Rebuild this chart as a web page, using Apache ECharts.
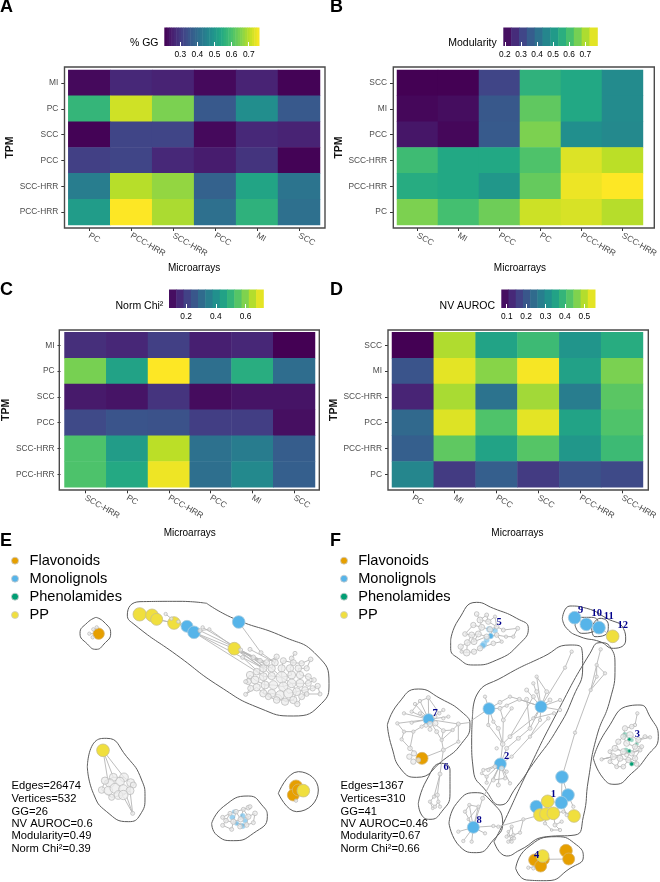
<!DOCTYPE html>
<html><head><meta charset="utf-8">
<style>html,body{margin:0;padding:0;background:#fff}#c{width:660px;height:882px}</style>
<script src="https://cdn.jsdelivr.net/npm/echarts@6/dist/echarts.min.js"></script>
</head><body><div id="c"></div>
<script>
// ---------- heatmap data (rows listed top to bottom) ----------
const xA=['PC','PCC-HRR','SCC-HRR','PCC','MI','SCC'];
const yA=['MI','PC','SCC','PCC','SCC-HRR','PCC-HRR'];
const valA=[[.22,.27,.26,.22,.26,.21],[.57,.72,.65,.36,.48,.36],[.21,.32,.32,.22,.27,.26],[.31,.32,.27,.25,.29,.21],[.44,.70,.67,.38,.53,.42],[.51,.76,.69,.41,.56,.41]];
const xB=['SCC','MI','PCC','PC','PCC-HRR','SCC-HRR'];
const yB=['SCC','MI','PCC','SCC-HRR','PCC-HRR','PC'];
const valB=[[.19,.19,.31,.565,.54,.47],[.20,.21,.35,.63,.54,.47],[.225,.20,.355,.66,.48,.465],[.59,.54,.54,.61,.745,.715],[.55,.54,.50,.635,.76,.775],[.66,.60,.645,.73,.74,.71]];
const xC=['SCC-HRR','PC','PCC-HRR','PCC','MI','SCC'];
const yC=['MI','PC','SCC','PCC','SCC-HRR','PCC-HRR'];
const valC=[[.17,.155,.205,.14,.155,.085],[.59,.45,.72,.315,.48,.31],[.13,.12,.18,.105,.12,.12],[.225,.25,.245,.20,.20,.11],[.54,.435,.655,.32,.35,.27],[.54,.47,.705,.315,.385,.275]];
const xD=['PC','MI','PCC','SCC','PCC-HRR','SCC-HRR'];
const yD=['SCC','MI','SCC-HRR','PCC','PCC-HRR','PC'];
const valD=[[.072,.497,.352,.40,.323,.371],[.198,.536,.468,.55,.347,.458],[.12,.492,.255,.487,.275,.43],[.236,.531,.42,.536,.352,.42],[.217,.434,.352,.425,.328,.40],[.294,.155,.217,.155,.193,.18]];
const titleA='% GG',titleB='Modularity',titleC='Norm Chi²',titleD='NV AUROC';
const rangeA=[.207,.76],rangeB=[.19,.775],rangeC=[.085,.72],rangeD=[.072,.555];
const ticksA=[.3,.4,.5,.6,.7],ticksB=[.2,.3,.4,.5,.6,.7],ticksC=[.2,.4,.6],ticksD=[.1,.2,.3,.4,.5];
const viridis=['#440154','#482475','#414487','#355f8d','#2a788e','#21908d','#22a884','#44bf70','#7ad151','#bddf26','#fde725'];

// ---------- network data: [x, y, radius] ----------
const legendNames=['Flavonoids','Monolignols','Phenolamides','PP'];
const legendY=[62,116,170,225];
const cOrange='#E69F00',cBlue='#56B4E9',cGreen='#009E73',cYellow='#F0DF3E';
const statsE=['Edges=26474','Vertices=532','GG=26','NV AUROC=0.6','Modularity=0.49','Norm Chi²=0.39'];
const statsF=['Edges=1367','Vertices=310','GG=41','NV AUROC=0.46','Modularity=0.67','Norm Chi²=0.66'];
const statsY=[737,776,815,852,889,928];

const eHulls=[
 [[288,232],[312,246],[332,280],[312,312],[288,328],[262,312],[240,280],[262,248]],
 [[620,190],[700,235],[850,290],[950,345],[987,430],[965,490],[880,528],[780,505],[660,440],[530,345],[405,255],[382,225],[420,185],[540,184]],
 [[262,680],[285,605],[320,595],[380,650],[425,720],[435,770],[420,825],[385,845],[320,815],[280,760]],
 [[635,850],[670,800],[745,768],[790,800],[802,830],[760,880],[700,902],[650,885]],
 [[835,760],[895,695],[955,750],[890,815]]];
const eMain=[[885,340,6],[875,355,7],[830,350,8],[800,368,9],[825,368,10],[850,362,9],[880,368,9],[905,370,8],[932,358,7],[920,385,8],[895,385,10],[870,385,11],[845,385,11],[815,385,11],[790,385,11],[770,395,10],[750,405,11],[745,425,9],[737,425,6],[765,420,12],[790,410,12],[815,408,11],[845,412,17],[875,405,12],[900,405,11],[925,410,9],[942,420,7],[925,430,9],[900,430,12],[875,430,13],[850,440,14],[820,435,13],[795,435,12],[770,442,11],[752,445,9],[737,463,6],[790,460,11],[815,460,12],[840,465,13],[865,460,14],[890,455,12],[915,450,10],[938,445,8],[953,438,8],[960,462,6],[905,470,9],[880,480,11],[855,485,11],[830,480,10],[805,470,9],[892,492,8],[920,462,7]];
const eMainWalk=[0,1,6,11,23,22,13,4,2,3,14,20,21,22,30,31,32,19,16,18,17,34,35,33,36,37,38,47,46,50,45,51,44,43,42,41,40,39,30,29,28,27,26,25,24,10,9,8,7,6,5,12,22,29,40,46,48,49,36,32,20,15];
const eTop=[[497,222,5],[514,236,5],[535,245,5],[600,272,6],[628,268,5],[608,262,5],[722,330,6],[728,352,6],[750,328,6],[783,338,6],[760,352,7],[780,362,7]];
const eLow=[[340,712,12],[372,712,13],[392,728,12],[400,735,9],[360,725,13],[330,730,13],[315,722,11],[305,750,10],[325,752,13],[345,745,15],[370,748,14],[390,752,12],[355,765,13],[370,765,14],[335,772,9],[398,820,6]];
const eBlueGrey=[[745,803,7],[730,808,6],[708,815,7],[690,820,6],[668,832,6],[678,842,7],[668,856,6],[695,868,6],[700,845,8],[722,838,8],[745,830,8],[765,820,7],[760,848,6],[740,855,7],[720,860,7],[750,800,6]];
const eBlueWalk=[0,1,2,3,4,5,6,7,8,9,10,11,12,13,14,8,2,9,1,10,13,5,3];
const eFlavGrey=[[268,281,5],[280,268,5],[278,292,5],[290,262,5]];
const eOtherGrey=[[888,782,5]];
const eOrange=[[296,281,17],[888,740,20],[880,765,18],[895,750,18]];
const eBlue=[[561,259,18],[582,277,19],[716,246,19]];
const ePaleBlue=[[697,832,8],[728,828,8],[728,858,8],[710,850,7],[735,842,7],[702,815,6]];
const eYellow=[[419,223,20],[456,226,19],[470,238,18],[522,249,19],[703,326,19],[309,631,19],[910,752,19]];
const ePaths=[
 [419,223,456,226,470,238,522,249,561,259,582,277,703,326],
 [497,222,514,236,535,245,561,259],[470,238,522,249,600,272,628,268],
 [716,246,783,338,825,368],[582,277,790,385],[582,277,770,395],[600,272,800,368],[608,262,815,385],[628,268,790,385],
 [703,326,790,385],[703,326,800,368],[703,326,780,362,815,385],[722,330,800,385],[728,352,790,410],[750,328,825,368],[760,352,815,408],
 [309,631,340,712],[309,631,372,712],[309,631,325,730],[370,770,398,820],[380,770,398,820],[390,752,398,820],
 [340,712,372,712,392,728,390,752,370,765,335,772,305,750,315,722,340,712],
 [296,281,268,281],[296,281,280,268],[296,281,278,292],[296,281,290,262],
 [880,765,888,782],[888,740,910,752]];

const fHulls=[
 [[362,300],[385,240],[440,187],[490,205],[560,235],[595,265],[570,310],[500,360],[430,375],[385,355],[362,325]],
 [[697,235],[720,198],[770,205],[830,235],[880,265],[887,300],[850,325],[810,305],[750,290],[710,265]],
 [[735,255],[755,232],[785,232],[805,250],[790,275],[755,280]],
 [[785,262],[810,235],[835,255],[825,285],[795,290]],
 [[172,555],[205,490],[265,447],[330,475],[400,520],[420,555],[395,610],[340,660],[260,712],[215,690],[185,620]],
 [[428,520],[440,465],[520,410],[640,350],[720,315],[755,325],[758,380],[730,470],[680,570],[610,670],[560,740],[510,795],[470,755],[430,690],[425,600]],
 [[492,905],[520,850],[590,700],[680,520],[780,340],[810,308],[840,320],[855,380],[840,480],[800,590],[775,720],[760,830],[735,885],[650,890],[570,930],[530,948]],
 [[790,655],[830,570],[900,497],[930,495],[960,530],[985,590],[950,650],[905,700],[855,733],[820,715]],
 [[265,790],[290,720],[335,670],[360,690],[360,760],[335,815],[300,838],[275,825]],
 [[357,850],[380,790],[435,758],[480,780],[518,850],[490,900],[440,938],[390,920]],
 [[557,985],[590,925],[680,890],[740,915],[760,950],[720,985],[650,1022],[590,1020]]];
const f5=[[440,222,7],[470,225,6],[495,230,5],[450,240,9],[475,245,8],[500,260,7],[430,255,8],[455,262,9],[480,268,8],[520,270,6],[563,265,6],[405,282,7],[425,285,9],[445,282,9],[470,290,8],[500,285,7],[528,290,5],[550,290,5],[392,320,8],[412,308,9],[432,305,9],[450,325,8],[490,310,7],[515,305,5],[410,338,10],[432,335,8],[395,335,5]];
const f5Walk=[0,3,1,4,2,5,8,7,6,11,12,13,14,15,16,17,10,9,5,4,3,7,13,20,19,18,26,24,25,21,22,23,15,14,20,12,19,24];
const f3=[[922,520,5],[915,555,5],[905,560,7],[885,565,8],[880,590,8],[900,585,10],[925,600,8],[945,590,6],[960,592,5],[865,605,8],[890,610,9],[915,620,8],[935,620,6],[855,625,9],[880,635,9],[905,640,8],[930,630,6],[850,650,9],[870,655,9],[895,660,8],[915,655,8],[920,672,7],[880,680,7],[860,680,6],[840,635,6],[815,658,5],[890,645,6],[840,665,6]];
const f3Walk=[0,1,2,3,4,5,6,7,8,6,11,12,16,15,14,13,9,4,10,11,15,20,21,19,22,23,18,17,24,13,14,18,19,20,16,25,17,27,23];
const fSmall=[
 [295,473,6],[270,483,5],[255,492,5],[245,515,5],[222,520,5],[202,550,5],[222,575,5],[245,548,5],[270,520,5],[275,560,5],[250,575,5],[215,598,5],[340,510,5],[328,520,5],[340,535,5],[355,530,5],[385,552,6],[368,570,5],[340,572,6],[320,575,6],[300,568,6],[385,605,5],[340,630,6],[335,600,5],[240,625,7],[252,640,8],[238,650,8],[250,665,8],[265,660,7],[316,550,8],[300,552,8],[288,556,6],[315,530,6],
 [330,702,6],[322,765,6],[312,770,5],[300,785,5],[325,785,5],[315,800,5],[330,800,5],[308,805,4],
 [725,335,5],[705,383,5],[620,410,5],[610,430,5],[590,450,6],[620,455,6],[650,455,6],[568,478,6],[590,478,6],[610,470,6],[540,470,5],[510,487,6],[530,497,5],[510,505,6],[465,470,5],[490,545,5],[475,555,5],[545,505,5],[520,540,6],[505,565,6],[518,612,7],[540,590,6],[565,595,6],[600,565,6],[630,540,5],[610,535,5],[600,590,5],[655,535,5],[672,520,5],[690,510,5],[690,480,5],[660,480,6],[500,625,5],[545,650,5],[530,625,6],
 [460,690,5],[475,690,5],[455,700,4],[470,710,5],[490,720,6],[505,735,6],[525,715,5],[540,730,5],[530,695,5],[515,685,7],[470,728,5],[495,680,6],
 [812,328,5],[800,375,5],[825,400,5],[800,410,5],[782,450,5],[735,578,5],
 [580,838,5],[570,878,5],[545,860,5],[530,890,5],[550,885,5],[535,905,5],[545,905,5],[552,895,5],[535,875,4],[505,860,5],
 [700,815,5],[710,825,5],[695,845,5],[675,855,6],[690,870,5],[665,870,4],[645,850,5],[730,800,5],
 [418,795,5],[405,815,5],[445,800,5],[415,838,4],[385,875,5],[400,903,5],[425,905,5],[465,880,5],[490,858,5],[458,775,6],
 [595,983,5],[610,985,5]];
const fOrange=[[276,655,18],[708,932,19],[716,957,18],[614,960,18],[640,958,18],[632,978,18]];
const fBlue=[[734,233,19],[769,253,19],[807,263,19],[477,506,18],[633,500,18],[296,538,17],[511,672,18],[430,862,18],[696,711,19],[714,765,19],[694,788,19],[619,800,19],[482,288,8]];
const fPaleBlue=[[478,268,9],[495,272,8],[462,312,9],[458,317,9],[470,300,8]];
const fYellow=[[848,289,19],[653,784,19],[630,825,19],[648,822,19],[670,820,19],[732,828,19],[638,948,19]];
const fPaleGreen=[[885,585,8],[888,630,7],[920,612,6],[905,600,6]];
const fGreen=[[898,633,5],[905,672,6],[898,598,5]];
const fPaths=[
 [296,538,295,473],[296,538,270,483],[296,538,255,492],[296,538,245,515],[296,538,222,520],[296,538,202,550],[296,538,245,548],[296,538,275,560],[296,538,340,510],[296,538,355,530],[296,538,385,552],[296,538,320,575],[296,538,340,572],[296,538,270,520],
 [202,550,222,575,250,575,275,560],[222,575,215,598],[245,515,270,483,295,473,328,520],[385,552,368,570,340,572,335,600,340,630,276,655],[385,552,385,605,340,630],[368,570,335,600],[320,575,335,600],[250,575,240,625,276,655],[215,598,240,625],[340,630,330,702],[385,552,415,548,477,506],
 [330,702,322,765],[330,702,312,770],[322,765,312,770,300,785,315,800,325,785,322,765],[330,800,325,785],[308,805,300,785],
 [725,335,705,383,633,500],[633,500,620,410,650,455,633,500],[590,450,633,500],[610,430,633,500],[568,478,633,500],[477,506,510,505,568,478,633,500],[477,506,510,487,540,470,568,478],[477,506,465,470],[477,506,490,545,505,565,518,612,511,672],[477,506,475,555,518,612],[510,505,520,540,518,612],[545,505,520,540],[633,500,600,565,565,595,530,625,511,672],[633,500,610,535,540,590,518,612],[633,500,630,540,600,590,545,650,511,672],[655,535,600,590],[672,520,610,535],[690,510,633,500],[690,480,633,500],[660,480,633,500],[590,478,600,565],[610,470,540,590],
 [511,672,460,690],[511,672,475,690],[511,672,470,710],[511,672,490,720],[511,672,505,735],[511,672,525,715],[511,672,540,730],[511,672,530,695],[511,672,458,775,430,862],[455,700,470,710,470,728],[490,720,525,715],
 [812,328,800,375,782,450,735,578,696,711],[800,375,825,400,782,450],[800,410,782,450],[800,375,800,410],
 [430,862,490,858,505,860,630,825],[580,838,570,878,550,885],[530,890,550,885,535,905,552,895,545,860,530,890],[545,905,535,875],
 [696,711,714,765,694,788,653,784,619,800,630,825,648,822,670,820,694,788],[696,711,694,788],[732,828,700,815,670,820],[710,825,694,788],[670,820,675,855,690,870,665,870,645,850,648,822],[695,845,675,855],[730,800,714,765],
 [430,862,418,795],[430,862,405,815],[430,862,445,800],[430,862,415,838],[430,862,385,875],[430,862,400,903],[430,862,425,905],[430,862,465,880],[418,795,405,815],[445,800,418,795],[445,800,415,838],
 [708,932,716,957,640,958],[614,960,632,978,595,983],[610,985,632,978],
 [734,233,769,253,807,263,848,289],[477,288,505,250],[815,658,850,650]];
const fNumbers=[['1',670,763],['2',530,650],['3',922,582],['4',620,946],['5',507,247],['6',348,682],['7',315,520],['8',447,840],['9',752,210],['10',800,220],['11',836,230],['12',878,257]];

// ---------- panel layout ----------
const FONT='"Liberation Sans",Arial,sans-serif';
const grids=[],xAxes=[],yAxes=[],series=[],visualMaps=[],graphics=[];
function addGrid(g,x,y){grids.push(g);x.gridIndex=y.gridIndex=grids.length-1;xAxes.push(x);yAxes.push(y);return grids.length-1;}
function heat(o){
 const g=addGrid({left:o.cx0,top:o.cy0,width:o.cx1-o.cx0,height:o.cy1-o.cy0},
  {type:'category',data:o.xs,position:'bottom',offset:3,splitLine:{show:false},axisLine:{show:false},
   axisTick:{show:true,alignWithLabel:true,length:3,lineStyle:{color:'#333',width:1}},
   axisLabel:{rotate:-30,interval:0,fontFamily:FONT,fontSize:8.4,color:'#4d4d4d',margin:7},
   name:'Microarrays',nameLocation:'middle',nameGap:o.xGap,nameTextStyle:{fontFamily:FONT,fontSize:10,color:'#000'}},
  {type:'category',data:o.ys,inverse:true,offset:4,splitLine:{show:false},axisLine:{show:false},
   axisTick:{show:true,alignWithLabel:true,length:3,lineStyle:{color:'#333',width:1}},
   axisLabel:{interval:0,fontFamily:FONT,fontSize:8.4,color:'#4d4d4d',margin:6},
   name:'TPM',nameLocation:'middle',nameGap:o.yGap,nameRotate:90,nameTextStyle:{fontFamily:FONT,fontSize:10.5,fontWeight:'bold',color:'#111'}});
 const data=[];o.vals.forEach((r,j)=>r.forEach((v,i)=>data.push([i,j,v])));
 const hi=series.length;
 series.push({type:'heatmap',xAxisIndex:g,yAxisIndex:g,data,itemStyle:{borderWidth:0},emphasis:{disabled:true},z:2});
 // colour bar on its own axis
 const b=addGrid({left:o.bx0,top:o.by0,width:o.bx1-o.bx0,height:o.by1-o.by0},
  {type:'value',min:o.range[0],max:o.range[1],position:'bottom',z:5,splitLine:{show:false},axisLine:{show:false},
   axisTick:{show:true,inside:true,length:4,customValues:o.ticks,lineStyle:{color:'#fff',width:1}},
   axisLabel:{customValues:o.ticks,formatter:v=>v.toFixed(1),fontFamily:FONT,fontSize:8.4,color:'#000',margin:5}},
  {type:'value',min:0,max:1,show:false});
 const step=(o.range[1]-o.range[0])/o.bins,bd=[];
 for(let k=0;k<o.bins;k++)bd.push([o.range[0]+k*step,o.range[0]+(k+1)*step,o.range[0]+(k+.5)*step]);
 const bi=series.length;
 series.push({type:'custom',xAxisIndex:b,yAxisIndex:b,data:bd,encode:{x:[0,1]},silent:true,z:2,
  renderItem:(p,api)=>{const a=api.coord([api.value(0),0]),c=api.coord([api.value(1),1]);
   return {type:'rect',shape:{x:a[0],y:c[1],width:c[0]-a[0]+.5,height:a[1]-c[1]},style:{fill:api.visual('color')}};}});
 visualMaps.push({type:'continuous',show:false,min:o.range[0],max:o.range[1],dimension:2,seriesIndex:[hi,bi],inRange:{color:viridis}});
 graphics.push({type:'rect',silent:true,z:10,shape:{x:o.px0,y:o.py0,width:o.px1-o.px0,height:o.py1-o.py0},style:{fill:'none',stroke:'#4a4a4a',lineWidth:1.4}});
 graphics.push({type:'text',z:10,style:{text:o.title,x:o.tx,y:o.ty,align:'right',verticalAlign:'middle',font:'10.5px '+FONT,fill:'#000'}});
 graphics.push({type:'text',z:10,style:{text:o.letter,x:o.lx,y:o.ly,align:'left',verticalAlign:'middle',font:'bold 18px '+FONT,fill:'#000'}});
}
heat({letter:'A',lx:0,ly:7,title:titleA,tx:158.5,ty:43.5,xs:xA,ys:yA,vals:valA,range:rangeA,ticks:ticksA,bins:40,
 cx0:68.3,cx1:320,cy0:70,cy1:225,px0:64.5,px1:325,py0:67,py1:228,bx0:164.3,bx1:259,by0:27.5,by1:46,xGap:35,yGap:47});
heat({letter:'B',lx:330,ly:7,title:titleB,tx:496.7,ty:43.5,xs:xB,ys:yB,vals:valB,range:rangeB,ticks:ticksB,bins:12,
 cx0:397,cx1:649,cy0:70,cy1:225,px0:393.3,px1:654.3,py0:67,py1:228,bx0:503.3,bx1:597.3,by0:27.5,by1:46,xGap:35,yGap:47});
heat({letter:'C',lx:0,ly:290,title:titleC,tx:163.3,ty:306,xs:xC,ys:yC,vals:valC,range:rangeC,ticks:ticksC,bins:13,
 cx0:63.3,cx1:315,cy0:332.3,cy1:487.3,px0:59.3,px1:319.3,py0:330,py1:490,bx0:169,bx1:263.3,by0:289.5,by1:308,xGap:38,yGap:45});
heat({letter:'D',lx:330,ly:290,title:titleD,tx:495,ty:306,xs:xD,ys:yD,vals:valD,range:rangeD,ticks:ticksD,bins:13,
 cx0:392,cx1:644,cy0:332.3,cy1:487.3,px0:388,px1:648.3,py0:330,py1:490,bx0:501.3,bx1:595,by0:289.5,by1:308,xGap:38,yGap:46});

// ---------- network panels ----------
function netGrid(left){return addGrid({left,top:540,width:330,height:342},
 {type:'value',min:0,max:990,show:false},{type:'value',min:0,max:1026,inverse:true,show:false});}
function nodes(g,arr,fill,stroke,z,op){series.push({type:'scatter',xAxisIndex:g,yAxisIndex:g,data:arr,silent:true,z,
 symbolSize:d=>d[2]*2/3,itemStyle:{color:fill,borderColor:stroke,borderWidth:.8,opacity:op||1}});}
function hull(g,pts){const d=pts.concat([pts[0]]);series.push({type:'line',xAxisIndex:g,yAxisIndex:g,data:d,smooth:.55,showSymbol:false,silent:true,clip:false,z:1,lineStyle:{color:'#5c5c5c',width:1}});}
function edges(g,paths,width,col){const d=[];paths.forEach(p=>{for(let i=0;i<p.length;i+=2)d.push([p[i],p[i+1]]);d.push(['-','-']);});
 series.push({type:'line',xAxisIndex:g,yAxisIndex:g,data:d,showSymbol:false,silent:true,connectNulls:false,z:2,lineStyle:{color:col||'#b5b5b5',width:width||.9}});}
function walk(arr,idx){const p=[];idx.forEach(i=>p.push(arr[i][0],arr[i][1]));return p;}
function labels(g,items,opts){series.push({type:'scatter',xAxisIndex:g,yAxisIndex:g,silent:true,z:9,symbolSize:1,itemStyle:{opacity:0},
 data:items.map(t=>({name:t[0],value:[t[1],t[2]]})),label:Object.assign({show:true,formatter:'{b}',opacity:1},opts)});}
const GREY='rgba(236,236,236,.75)',GS='#bdbdbd';
function legendAndStats(g,stats,letter,lx,statsX,legX,textX){
 [cOrange,cBlue,cGreen,cYellow].forEach((c,i)=>nodes(g,[[legX,legendY[i],10.5]],c,'#ccc',8));
 labels(g,legendNames.map((n,i)=>[n,textX,legendY[i]]),{position:'right',distance:0,fontFamily:FONT,fontSize:14.6,color:'#000'});
 labels(g,stats.map((n,i)=>[n,statsX,statsY[i]]),{position:'right',distance:0,fontFamily:FONT,fontSize:11.2,color:'#000'});
 graphics.push({type:'text',z:10,style:{text:letter,x:lx,y:541,align:'left',verticalAlign:'middle',font:'bold 18px '+FONT,fill:'#000'}});
}
const gE=netGrid(0);
eHulls.forEach(h=>hull(gE,h));
edges(gE,ePaths.concat([walk(eMain,eMainWalk),walk(eBlueGrey,eBlueWalk)]));
nodes(gE,eOrange,cOrange,'#d8b46a',4);
nodes(gE,eBlue,cBlue,'#aacde0',4);
nodes(gE,eYellow,cYellow,'#c9c08a',4);
nodes(gE,ePaleBlue,cBlue,'#bcd9ea',4,.6);
nodes(gE,eMain.concat(eTop,eLow,eBlueGrey,eFlavGrey,eOtherGrey),GREY,GS,5);
legendAndStats(gE,statsE,'E',0,33,45,87);

const gF=netGrid(330);
fHulls.forEach(h=>hull(gF,h));
edges(gF,fPaths.concat([walk(f5,f5Walk),walk(f3,f3Walk)]));
nodes(gF,fOrange,cOrange,'#d8b46a',4);
nodes(gF,fBlue,cBlue,'#aacde0',4);
nodes(gF,fYellow,cYellow,'#c9c08a',4);
nodes(gF,fPaleBlue,cBlue,'#bcd9ea',4,.55);
nodes(gF,fPaleGreen,cGreen,'#b8dccd',4,.4);
nodes(gF,fGreen,cGreen,'#7fc7ad',6);
nodes(gF,f5.concat(f3,fSmall),GREY,GS,5);
labels(gF,fNumbers,{position:'inside',fontFamily:'"Liberation Serif",serif',fontWeight:'bold',fontSize:10.5,color:'#00008b'});
legendAndStats(gF,statsF,'F',330,30,42,83);

const chart=echarts.init(document.getElementById('c'),null,{renderer:'canvas'});
chart.setOption({animation:false,backgroundColor:'#fff',textStyle:{fontFamily:FONT},grid:grids,xAxis:xAxes,yAxis:yAxes,visualMap:visualMaps,series,graphic:graphics});
</script></body></html>
